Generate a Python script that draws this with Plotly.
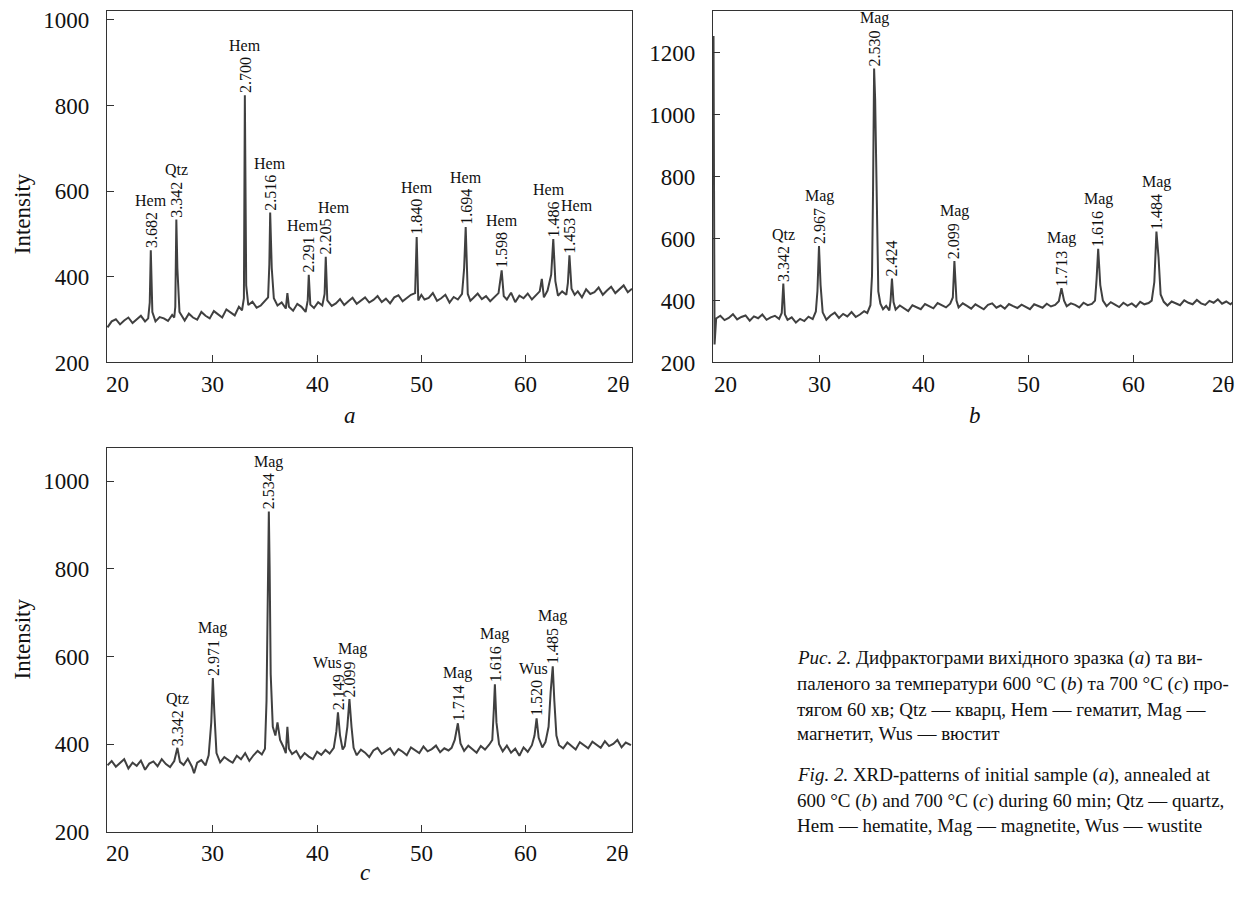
import plotly.graph_objects as go

# ---------------- data ----------------
# panel a: initial sample
tt_a = [19.9, 20.3, 20.7, 21.1, 21.5, 21.9, 22.3, 22.7, 23.1, 23.5, 23.8, 23.95, 24.05, 24.2, 24.5, 24.9,
        25.3, 25.7, 26.1, 26.3, 26.4, 26.5, 26.6, 26.8, 27.3, 27.7, 28.1, 28.5, 28.9, 29.3, 29.7, 30.1,
        30.5, 30.9, 31.3, 31.7, 32.1, 32.5, 32.8, 32.98, 33.07, 33.2, 33.4, 33.8, 34.2, 34.6, 35.0, 35.3,
        35.42, 35.5, 35.65, 35.85, 36.2, 36.6, 37.0, 37.15, 37.3, 37.7, 38.1, 38.5, 38.9, 39.1, 39.2, 39.35,
        39.7, 40.1, 40.5, 40.72, 40.83, 40.98, 41.4, 41.8, 42.2, 42.6, 43.0, 43.4, 43.8, 44.2, 44.6, 45.0,
        45.4, 45.8, 46.2, 46.6, 47.0, 47.4, 47.8, 48.2, 48.6, 49.0, 49.4, 49.55, 49.7, 50.0, 50.3, 50.7,
        51.1, 51.5, 51.9, 52.3, 52.7, 53.1, 53.5, 53.9, 54.1, 54.25, 54.45, 54.7, 55.0, 55.4, 55.8, 56.2,
        56.6, 57.0, 57.4, 57.7, 57.9, 58.2, 58.6, 59.0, 59.4, 59.8, 60.2, 60.6, 61.0, 61.35, 61.55, 61.75,
        62.1, 62.45, 62.65, 62.85, 63.1, 63.5, 63.9, 64.05, 64.2, 64.4, 64.7, 65.0, 65.4, 65.8, 66.2, 66.6,
        67.0, 67.4, 67.8, 68.2, 68.6, 69.0, 69.4, 69.8, 70.2]
int_a = [282, 296, 301, 289, 298, 305, 292, 300, 309, 296, 303, 340, 462, 318, 296, 306,
         303, 297, 311, 305, 330, 534, 420, 318, 298, 314, 305, 300, 318, 309, 303, 320,
         312, 305, 324, 316, 310, 330, 322, 350, 824, 380, 334, 342, 328, 333, 345, 352,
         430, 550, 420, 350, 333, 340, 326, 362, 330, 321, 337, 330, 318, 345, 405, 335,
         327, 341, 333, 360, 447, 345, 332, 338, 348, 334, 343, 351, 337, 345, 352, 340,
         346, 355, 341, 349, 338, 352, 357, 343, 350, 358, 362, 493, 345, 358, 347, 351,
         362, 344, 350, 358, 340, 353, 347, 360, 420, 516, 360, 344, 351, 361, 348, 355,
         343, 352, 362, 415, 355, 347, 363, 341, 356, 350, 361, 347, 358, 366, 395, 352,
         368, 405, 488, 390, 356, 366, 358, 385, 450, 372, 358, 366, 352, 371, 360, 364,
         375, 358, 368, 377, 362, 371, 380, 364, 372]

# panel b: annealed at 600 C
tt_b = [19.95, 20.05, 20.2, 20.6, 21.0, 21.4, 21.8, 22.2, 22.6, 23.0, 23.4, 23.8, 24.2, 24.6, 25.0, 25.4,
        25.8, 26.2, 26.45, 26.6, 26.75, 27.0, 27.4, 27.8, 28.2, 28.6, 29.0, 29.4, 29.7, 29.85, 30.0, 30.15,
        30.35, 30.7, 31.1, 31.5, 31.9, 32.3, 32.7, 33.1, 33.5, 33.9, 34.3, 34.6, 34.9, 35.05, 35.15, 35.25,
        35.35, 35.5, 35.65, 35.85, 36.1, 36.4, 36.7, 36.82, 36.95, 37.1, 37.3, 37.7, 38.1, 38.5, 38.9, 39.3,
        39.7, 40.1, 40.5, 40.9, 41.3, 41.7, 42.1, 42.5, 42.75, 42.9, 43.1, 43.3, 43.7, 44.1, 44.5, 44.9,
        45.3, 45.7, 46.1, 46.5, 46.9, 47.3, 47.7, 48.1, 48.5, 48.9, 49.3, 49.7, 50.1, 50.5, 50.9, 51.3,
        51.7, 52.1, 52.5, 52.85, 53.1, 53.35, 53.6, 54.0, 54.4, 54.8, 55.2, 55.6, 56.0, 56.3, 56.45, 56.6,
        56.8, 57.05, 57.4, 57.8, 58.2, 58.6, 59.0, 59.4, 59.8, 60.2, 60.6, 61.0, 61.4, 61.7, 61.95, 62.15,
        62.35, 62.55, 62.85, 63.2, 63.6, 64.0, 64.4, 64.8, 65.2, 65.6, 66.0, 66.4, 66.8, 67.2, 67.6, 68.0,
        68.4, 68.8, 69.2, 69.45]
int_b = [1255, 258, 342, 351, 337, 344, 356, 339, 347, 352, 335, 349, 343, 355, 338, 346,
         351, 341, 360, 455, 355, 338, 346, 329, 341, 334, 348, 340, 365, 430, 576, 450,
         362, 338, 352, 361, 344, 357, 349, 363, 347, 355, 366, 360, 385, 480, 760, 1150,
         1050, 700, 430, 390, 372, 383, 368, 400, 471, 395, 371, 384, 376, 366, 385, 378,
         372, 389, 381, 375, 392, 384, 378, 390, 410, 528, 400, 378, 391, 383, 374, 388,
         380, 372, 386, 391, 377, 384, 374, 389, 382, 376, 387, 379, 372, 388, 383, 377,
         390, 381, 386, 398, 440, 400, 382, 391, 386, 378, 393, 385, 389, 400, 470, 567,
         450, 400, 382, 395, 387, 379, 393, 384, 391, 380, 396, 388, 392, 400, 460, 623,
         540, 420, 396, 384, 397, 390, 385, 401, 393, 388, 402, 391, 386, 399, 393, 404,
         390, 397, 388, 395]

# panel c: annealed at 700 C
tt_c = [19.9, 20.3, 20.7, 21.1, 21.5, 21.9, 22.3, 22.7, 23.1, 23.5, 23.9, 24.3, 24.7, 25.1, 25.5, 25.9,
        26.3, 26.6, 26.85, 27.2, 27.6, 28.0, 28.2, 28.5, 28.9, 29.3, 29.6, 29.85, 30.0, 30.15, 30.35, 30.7,
        31.1, 31.5, 31.9, 32.3, 32.7, 33.1, 33.5, 33.9, 34.3, 34.7, 35.0, 35.15, 35.3, 35.37, 35.45, 35.55,
        35.75, 36.0, 36.2, 36.45, 36.75, 37.0, 37.15, 37.3, 37.6, 38.0, 38.4, 38.8, 39.2, 39.6, 40.0, 40.4,
        40.8, 41.2, 41.6, 41.85, 42.0, 42.2, 42.45, 42.65, 42.9, 43.1, 43.3, 43.5, 43.8, 44.2, 44.6, 45.0,
        45.4, 45.8, 46.2, 46.6, 47.0, 47.4, 47.8, 48.2, 48.6, 49.0, 49.4, 49.8, 50.2, 50.6, 51.0, 51.4,
        51.8, 52.2, 52.6, 52.9, 53.2, 53.5, 53.75, 54.1, 54.5, 54.9, 55.3, 55.7, 56.1, 56.5, 56.8, 56.95,
        57.05, 57.2, 57.45, 57.8, 58.2, 58.6, 59.0, 59.4, 59.8, 60.2, 60.6, 60.85, 61.05, 61.25, 61.6, 61.9,
        62.2, 62.4, 62.6, 62.75, 62.95, 63.2, 63.6, 64.0, 64.4, 64.8, 65.2, 65.6, 66.0, 66.4, 66.8, 67.2,
        67.6, 68.0, 68.4, 68.8, 69.2, 69.6, 70.1]
int_c = [352, 362, 349, 357, 366, 345, 358, 351, 363, 342, 356, 361, 350, 366, 355, 348,
         362, 392, 360, 353, 367, 349, 334, 358, 364, 352, 375, 450, 551, 470, 380, 359,
         371, 364, 358, 374, 366, 380, 362, 375, 385, 377, 390, 500, 750, 931, 800, 560,
         440, 420, 450, 410, 395, 380, 440, 390, 378, 385, 368, 380, 372, 366, 383, 376,
         387, 379, 392, 430, 473, 420, 388, 396, 440, 503, 440, 392, 375, 388, 381, 371,
         386, 392, 378, 384, 391, 376, 389, 383, 375, 393, 386, 380, 395, 384, 389, 397,
         382, 391, 386, 392, 410, 448, 402, 385, 397, 390, 381, 396, 388, 399, 410, 480,
         537, 450, 400, 384, 397, 381, 390, 374, 393, 383, 398, 420, 459, 415, 393, 405,
         440, 520, 578, 500, 420, 398, 391, 404, 395, 388, 405, 397, 391, 406, 399, 392,
         407, 396, 401, 410, 393, 404, 398]

assert len(tt_a) == len(int_a) and len(tt_b) == len(int_b) and len(tt_c) == len(int_c)

# peak labels
phase_a = ["Hem", "Qtz", "Hem", "Hem", "Hem", "Hem", "Hem", "Hem", "Hem", "Hem", "Hem"]
dval_a = ["3.682", "3.342", "2.700", "2.516", "2.291", "2.205", "1.840", "1.694", "1.598", "1.486", "1.453"]
peak_x_a = [24.05, 26.5, 33.07, 35.5, 39.2, 40.83, 49.55, 54.25, 57.7, 62.65, 64.2]
peak_y_a = [462, 534, 824, 550, 405, 447, 493, 516, 415, 488, 450]

phase_b = ["Qtz", "Mag", "Mag", "", "Mag", "Mag", "Mag", "Mag"]
dval_b = ["3.342", "2.967", "2.530", "2.424", "2.099", "1.713", "1.616", "1.484"]
peak_x_b = [26.6, 30.0, 35.25, 36.95, 42.9, 53.1, 56.6, 62.15]
peak_y_b = [455, 576, 1150, 471, 528, 440, 567, 623]

phase_c = ["Qtz", "Mag", "Mag", "Wus", "Mag", "Mag", "Mag", "Wus", "Mag"]
dval_c = ["3.342", "2.971", "2.534", "2.149", "2.099", "1.714", "1.616", "1.520", "1.485"]
peak_x_c = [26.6, 30.0, 35.37, 42.0, 43.1, 53.5, 57.05, 61.05, 62.6]
peak_y_c = [392, 551, 931, 473, 503, 448, 537, 459, 578]

yticks_a = [200, 400, 600, 800, 1000]
yticks_b = [200, 400, 600, 800, 1000, 1200]
yticks_c = [200, 400, 600, 800, 1000]
xticks = [30, 40, 50, 60]

caption_lines = [
    "<i>Рис. 2.</i> Дифрактограми вихідного зразка (<i>a</i>) та ви-",
    "паленого за температури 600 °C (<i>b</i>) та 700 °C (<i>c</i>) про-",
    "тягом 60 хв; Qtz — кварц, Hem — гематит, Mag —",
    "магнетит, Wus — вюстит",
    "<i>Fig. 2.</i> XRD-patterns of initial sample (<i>a</i>), annealed at",
    "600 °C (<i>b</i>) and 700 °C (<i>c</i>) during 60 min; Qtz — quartz,",
    "Hem — hematite, Mag — magnetite, Wus — wustite",
]

# ---------------- figure ----------------
W, H = 1247, 900
FONT = "Liberation Serif"
LINE = "#333333"
TRACE = "#404040"


def fx(p):
    return p / W


def fy(p):
    return 1 - p / H


fig = go.Figure()
for xs, ys, xa, ya in [(tt_a, int_a, "x", "y"), (tt_b, int_b, "x2", "y2"), (tt_c, int_c, "x3", "y3")]:
    fig.add_trace(go.Scatter(x=xs, y=ys, mode="lines", line=dict(color=TRACE, width=2.0),
                             xaxis=xa, yaxis=ya, showlegend=False))


def xaxis(dom, rng, anchor):
    return dict(domain=dom, range=rng, anchor=anchor, showline=True, mirror=True, linecolor=LINE,
                linewidth=1.3, ticks="inside", ticklen=7, tickwidth=1.3, tickcolor=LINE,
                tickvals=xticks, showticklabels=False, showgrid=False, zeroline=False)


def yaxis(dom, rng, anchor, tv):
    return dict(domain=dom, range=rng, anchor=anchor, showline=True, mirror=True, linecolor=LINE,
                linewidth=1.3, ticks="inside", ticklen=7, tickwidth=1.3, tickcolor=LINE,
                tickvals=tv, ticktext=[str(v) for v in tv], showgrid=False, zeroline=False,
                tickfont=dict(family=FONT, size=23, color="#111"), ticklabelstandoff=12)


dom_ax = [fx(107), fx(632)]
dom_bx = [fx(713), fx(1232)]
dom_top = [fy(366), fy(8)]
dom_bot = [fy(844), fy(453)]

fig.update_layout(
    width=W, height=H, margin=dict(l=0, r=0, t=0, b=0),
    paper_bgcolor="white", plot_bgcolor="white", showlegend=False,
    xaxis=xaxis(dom_ax, [19.85, 70.2], "y"),
    yaxis=yaxis(dom_top, [200, 1021], "x", yticks_a),
    xaxis2=xaxis(dom_bx, [19.9, 69.35], "y2"),
    yaxis2=yaxis(dom_top, [200, 1336], "x2", yticks_b),
    xaxis3=xaxis(dom_ax, [19.85, 70.2], "y3"),
    yaxis3=yaxis(dom_bot, [200, 1076], "x3", yticks_c),
)

ann = []
TXT = dict(family=FONT, size=23, color="#111")


def xlabels(xref, ypix, first_x, last_x):
    labs = [(first_x, "20")] + [(v, str(v)) for v in xticks] + [(last_x, "2θ")]
    for xv, t in labs:
        ann.append(dict(x=xv, xref=xref, y=fy(ypix), yref="paper", text=t, showarrow=False,
                        xanchor="center", yanchor="middle", font=TXT))


xlabels("x", 388, 20.9, 68.9)
xlabels("x2", 388, 21.1, 68.5)
xlabels("x3", 866, 20.9, 68.8)

# panel letters
for t, xp, yp in [("a", 350, 420), ("b", 975, 420), ("c", 365, 885)]:
    ann.append(dict(x=fx(xp), y=fy(yp), xref="paper", yref="paper", text="<i>%s</i>" % t,
                    showarrow=False, font=TXT, xanchor="center", yanchor="middle"))

# y titles
for yp in [215, 648]:
    ann.append(dict(x=fx(22), y=fy(yp), xref="paper", yref="paper", text="Intensity", textangle=-90,
                    showarrow=False, font=TXT, xanchor="center", yanchor="middle"))

LBL = dict(family=FONT, size=16, color="#111")


def peak_labels(xref, yref, phases, dvals, px, py, shifts):
    for i, (ph, d, xv, yv) in enumerate(zip(phases, dvals, px, py)):
        ann.append(dict(x=xv, y=yv, xref=xref, yref=yref, text=d, textangle=-90, showarrow=False,
                        font=LBL, xanchor="center", yanchor="bottom", yshift=1, borderpad=0))
        if ph:
            ann.append(dict(x=xv, y=yv, xref=xref, yref=yref, text=ph, showarrow=False, font=LBL,
                            xanchor="center", yanchor="bottom", yshift=40, xshift=shifts[i], borderpad=0))


peak_labels("x", "y", phase_a, dval_a, peak_x_a, peak_y_a, [0, 0, 0, 0, -6, 8, 0, 0, 0, -4, 8])
peak_labels("x2", "y2", phase_b, dval_b, peak_x_b, peak_y_b, [0] * 8)
peak_labels("x3", "y3", phase_c, dval_c, peak_x_c, peak_y_c, [0, 0, 0, -10, 3, 0, 0, -3, 0])

# caption
cap_y = [667, 693, 719, 744, 786, 812, 837]
for line, yp in zip(caption_lines, cap_y):
    ann.append(dict(x=fx(795), y=fy(yp), xref="paper", yref="paper", text=line, showarrow=False,
                    xanchor="left", yanchor="middle", font=dict(family=FONT, size=19, color="#111")))

fig.update_layout(annotations=ann)
fig.write_html("out.html")
